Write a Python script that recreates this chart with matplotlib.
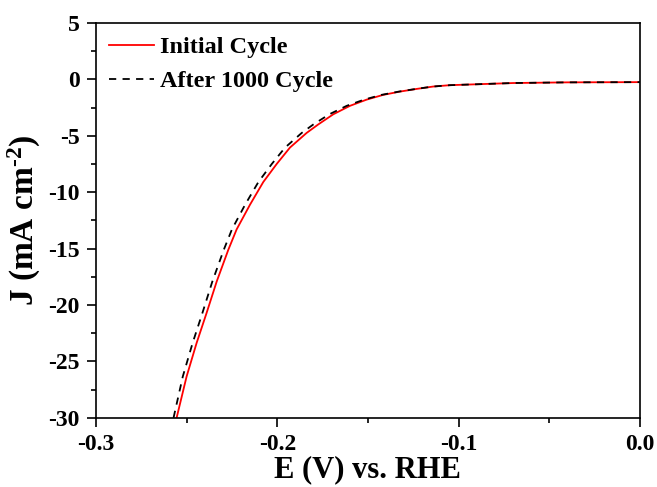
import matplotlib
matplotlib.use('Agg')
import matplotlib.pyplot as plt
from matplotlib.ticker import MultipleLocator, FormatStrFormatter

plt.rcParams['font.family'] = 'Liberation Serif'
plt.rcParams['font.weight'] = 'bold'
plt.rcParams['axes.unicode_minus'] = False
plt.rcParams['mathtext.fontset'] = 'custom'
plt.rcParams['mathtext.rm'] = 'Liberation Serif:bold'
plt.rcParams['mathtext.it'] = 'Liberation Serif:bold'
plt.rcParams['mathtext.default'] = 'rm'

# LSV curves
e_initial = [-0.2555, -0.2500, -0.2445, -0.2390, -0.2334, -0.2270, -0.2224, -0.2151,
             -0.2077, -0.2003, -0.1930, -0.1838, -0.1774, -0.1691, -0.1599, -0.1507,
             -0.1416, -0.1324, -0.1231, -0.1140, -0.1048, -0.0700, -0.0400, 0.0]
j_initial = [-30.0, -26.34, -23.38, -20.72, -17.92, -15.11, -13.3, -11.13,
             -9.10, -7.50, -6.05, -4.75, -4.0, -3.1, -2.35, -1.8,
             -1.38, -1.09, -0.85, -0.64, -0.52, -0.33, -0.27, -0.25]

e_after = [-0.2572, -0.2521, -0.2467, -0.2413, -0.2358, -0.2295, -0.2250, -0.2178,
           -0.2104, -0.2030, -0.1957, -0.1865, -0.1801, -0.1713, -0.1617, -0.1521,
           -0.1426, -0.1330, -0.1234, -0.1140, -0.1048, -0.0700, -0.0400, 0.0]
j_after = [-30.0, -26.34, -23.38, -20.72, -17.92, -15.11, -13.3, -11.13,
           -9.10, -7.50, -6.05, -4.75, -4.0, -3.1, -2.35, -1.8,
           -1.38, -1.09, -0.85, -0.64, -0.52, -0.33, -0.27, -0.25]

fig = plt.figure(figsize=(6.57, 4.87), dpi=100)
ax = fig.add_axes([0.146, 0.142, 0.828, 0.811])

ax.plot(e_initial, j_initial, color='red', lw=1.3, label='Initial Cycle')
ax.plot(e_after, j_after, color='black', lw=1.3, ls=(0, (4, 3.5)), label='After 1000 Cycle')

ax.set_xlim(-0.3, 0.0)
ax.set_ylim(-30, 5)
ax.xaxis.set_major_locator(MultipleLocator(0.1))
ax.xaxis.set_minor_locator(MultipleLocator(0.05))
ax.yaxis.set_major_locator(MultipleLocator(5))
ax.yaxis.set_minor_locator(MultipleLocator(2.5))
ax.xaxis.set_major_formatter(FormatStrFormatter('%.1f'))

ax.tick_params(which='both', direction='out', top=False, right=False, width=1.2, labelsize=17)
ax.tick_params(which='major', length=6.5, pad=5)
ax.tick_params(which='minor', length=3.5)
for s in ax.spines.values():
    s.set_linewidth(1.2)

ax.set_xlabel('E (V) vs. RHE', fontsize=22, fontweight='bold', labelpad=0)
ax.set_ylabel('J (mA cm$^{\\text{-}2}$)', fontsize=24, fontweight='bold', labelpad=4)

ax.legend(loc='upper left', frameon=False, fontsize=17.5, handlelength=1.85,
          borderaxespad=0.1, borderpad=0.45, labelspacing=0.5, handletextpad=0.25)

fig.savefig('out.png', dpi=100)
